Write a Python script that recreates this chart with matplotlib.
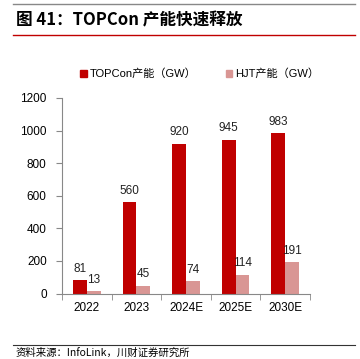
import matplotlib
matplotlib.use("Agg")
import matplotlib.pyplot as plt
import numpy as np
from matplotlib.lines import Line2D
from matplotlib.patches import Patch

plt.rcParams['font.family'] = ['Liberation Sans', 'Noto Sans CJK SC', 'DejaVu Sans']

categories = ["2022", "2023", "2024E", "2025E", "2030E"]
topcon = [81, 560, 920, 945, 983]
hjt = [13, 45, 74, 114, 191]
yticks = [0, 200, 400, 600, 800, 1000, 1200]

red = "#C00000"
pink = "#D99694"

fig = plt.figure(figsize=(3.6, 3.59), dpi=100)
ax = fig.add_axes([62/360, 1-293.5/359, 248/360, 195.5/359])

x = np.arange(len(categories))
w = 0.28
ax.bar(x - w/2, topcon, w, color=red)
ax.bar(x + w/2, hjt, w, color=pink)
for xi, v in zip(x, topcon):
    ax.text(xi - w/2, v + 35, str(v), ha='center', va='bottom', fontsize=8.5, color='#222222')
for xi, v in zip(x, hjt):
    ax.text(xi + w/2, v + 35, str(v), ha='center', va='bottom', fontsize=8.5, color='#222222')

ax.set_xlim(-0.5, len(categories) - 0.5)
ax.set_ylim(0, 1200)
ax.set_yticks(yticks)
ax.set_yticklabels([str(t) for t in yticks], fontsize=8.5)
ax.set_xticks(x)
ax.set_xticklabels(categories, fontsize=8.5)
ax.tick_params(axis='x', length=0, pad=6)
ax.set_xticks(np.arange(-0.5, len(categories)), minor=True)
ax.tick_params(axis='x', which='minor', length=4, color='#888888')
ax.tick_params(axis='y', length=4, color='#888888', pad=7)
for s in ['top', 'right']:
    ax.spines[s].set_visible(False)
for s in ['left', 'bottom']:
    ax.spines[s].set_color('#888888')
    ax.spines[s].set_linewidth(0.8)

handles = [Patch(color=red), Patch(color=pink)]
fig.legend(handles, ["TOPCon产能（GW）", "HJT产能（GW）"], loc='center',
           bbox_to_anchor=(0.555, 1-74/359), ncol=2, frameon=False, fontsize=8,
           handlelength=0.6, handleheight=0.6, handletextpad=0.3, columnspacing=2.6)

fig.add_artist(Line2D([13/360, 355/360], [1-4/359, 1-4/359], color='#888888', lw=1))
fig.add_artist(Line2D([13/360, 355/360], [1-35/359, 1-35/359], color=red, lw=1))
fig.add_artist(Line2D([13/360, 355/360], [1-345/359, 1-345/359], color='#333333', lw=0.8))
fig.text(16/360, 1-20/359, "图 41：TOPCon 产能快速释放", fontsize=12, fontweight='bold',
         va='center', ha='left', family=['Noto Sans CJK SC'])
fig.text(16/360, 1-353/359, "资料来源：InfoLink，川财证券研究所", fontsize=7.5, style='italic',
         va='center', ha='left', family=['Noto Sans CJK SC'])

fig.savefig("out.png", dpi=100)
